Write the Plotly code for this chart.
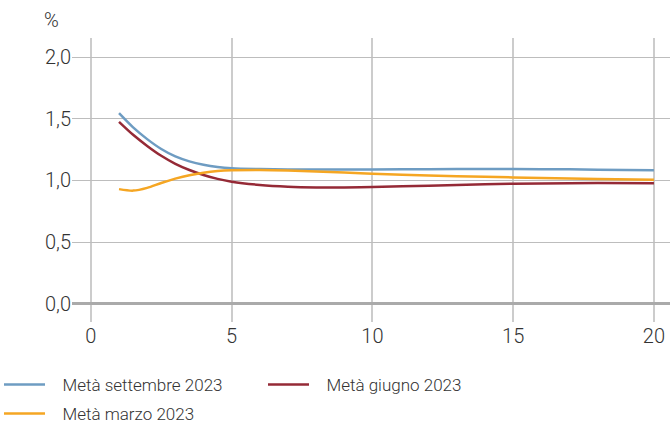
import plotly.graph_objects as go

x_vals = [1, 1.5, 2, 2.5, 3, 3.5, 4, 4.5, 5, 6, 7, 8, 9, 10, 12, 14, 16, 18, 20]
settembre = [1.545, 1.43, 1.335, 1.255, 1.195, 1.155, 1.128, 1.11, 1.1, 1.093, 1.09, 1.089, 1.089,
             1.09, 1.092, 1.093, 1.092, 1.088, 1.083]
giugno = [1.475, 1.37, 1.28, 1.2, 1.135, 1.085, 1.045, 1.013, 0.99, 0.964, 0.95, 0.944, 0.943,
          0.947, 0.958, 0.97, 0.976, 0.979, 0.978]
marzo = [0.93, 0.918, 0.94, 0.98, 1.015, 1.043, 1.063, 1.076, 1.082, 1.085, 1.081, 1.073, 1.064,
         1.055, 1.041, 1.03, 1.02, 1.012, 1.006]

names = ["Metà settembre 2023", "Metà giugno 2023", "Metà marzo 2023"]
colors = ["#6e9cc2", "#952a36", "#f5a623"]
legends = ["legend", "legend", "legend2"]

x_ticks = [0, 5, 10, 15, 20]
y_ticks = [0.0, 0.5, 1.0, 1.5, 2.0]

PAD = "\u200b\u00a0\u00a0\u00a0"
fig = go.Figure()
for name, ys, c, lg in zip(names, [settembre, giugno, marzo], colors, legends):
    fig.add_trace(go.Scatter(x=x_vals, y=ys, name=PAD + name, mode="lines", legend=lg,
                             line=dict(color=c, width=2.5, shape="spline", smoothing=0.8)))

L, T, B = 72, 38, 101
PW = 670.0 - L
PH = 423.0 - T - B
leg_common = dict(orientation="h", xref="paper", yref="paper", xanchor="left",
                  yanchor="middle", entrywidth=208, entrywidthmode="pixels", itemwidth=41,
                  traceorder="normal", font=dict(family="Roboto", size=17, color="#333333", weight=300),
                  bgcolor="rgba(0,0,0,0)")

fig.update_layout(
    width=670, height=423,
    margin=dict(l=L, r=0, t=T, b=B, autoexpand=False),
    paper_bgcolor="white", plot_bgcolor="white",
    separators=",.",
    font=dict(family="Roboto", size=20, color="#333333", weight=300),
    showlegend=True,
    legend=dict(x=-73 / PW, y=-(385 - 322) / PH, **leg_common),
    legend2=dict(x=-73 / PW, y=-(414 - 322) / PH, **leg_common),
    xaxis=dict(range=[-0.67, 20.57], tickvals=x_ticks, showgrid=True, gridcolor="#cccccc",
               gridwidth=1.5, zeroline=False, showline=False, ticks="", ticklen=0,
               tickfont=dict(size=20)),
    yaxis=dict(range=[-0.146, 2.154], tickvals=y_ticks, tickformat=".1f", showgrid=True,
               gridcolor="#bdbdbd", gridwidth=1, zeroline=True, zerolinecolor="#aaaaaa",
               zerolinewidth=2.5, showline=False, ticks="", ticklen=0,
               tickfont=dict(size=20)),
    annotations=[dict(text="%", xref="paper", yref="paper", x=-0.018, y=1 + 18 / PH,
                      xanchor="right", yanchor="middle", showarrow=False,
                      font=dict(size=20, color="#333333"))],
)
fig.write_html("out.html", config={"displayModeBar": False},
               post_script="document.body.style.margin='0';")
